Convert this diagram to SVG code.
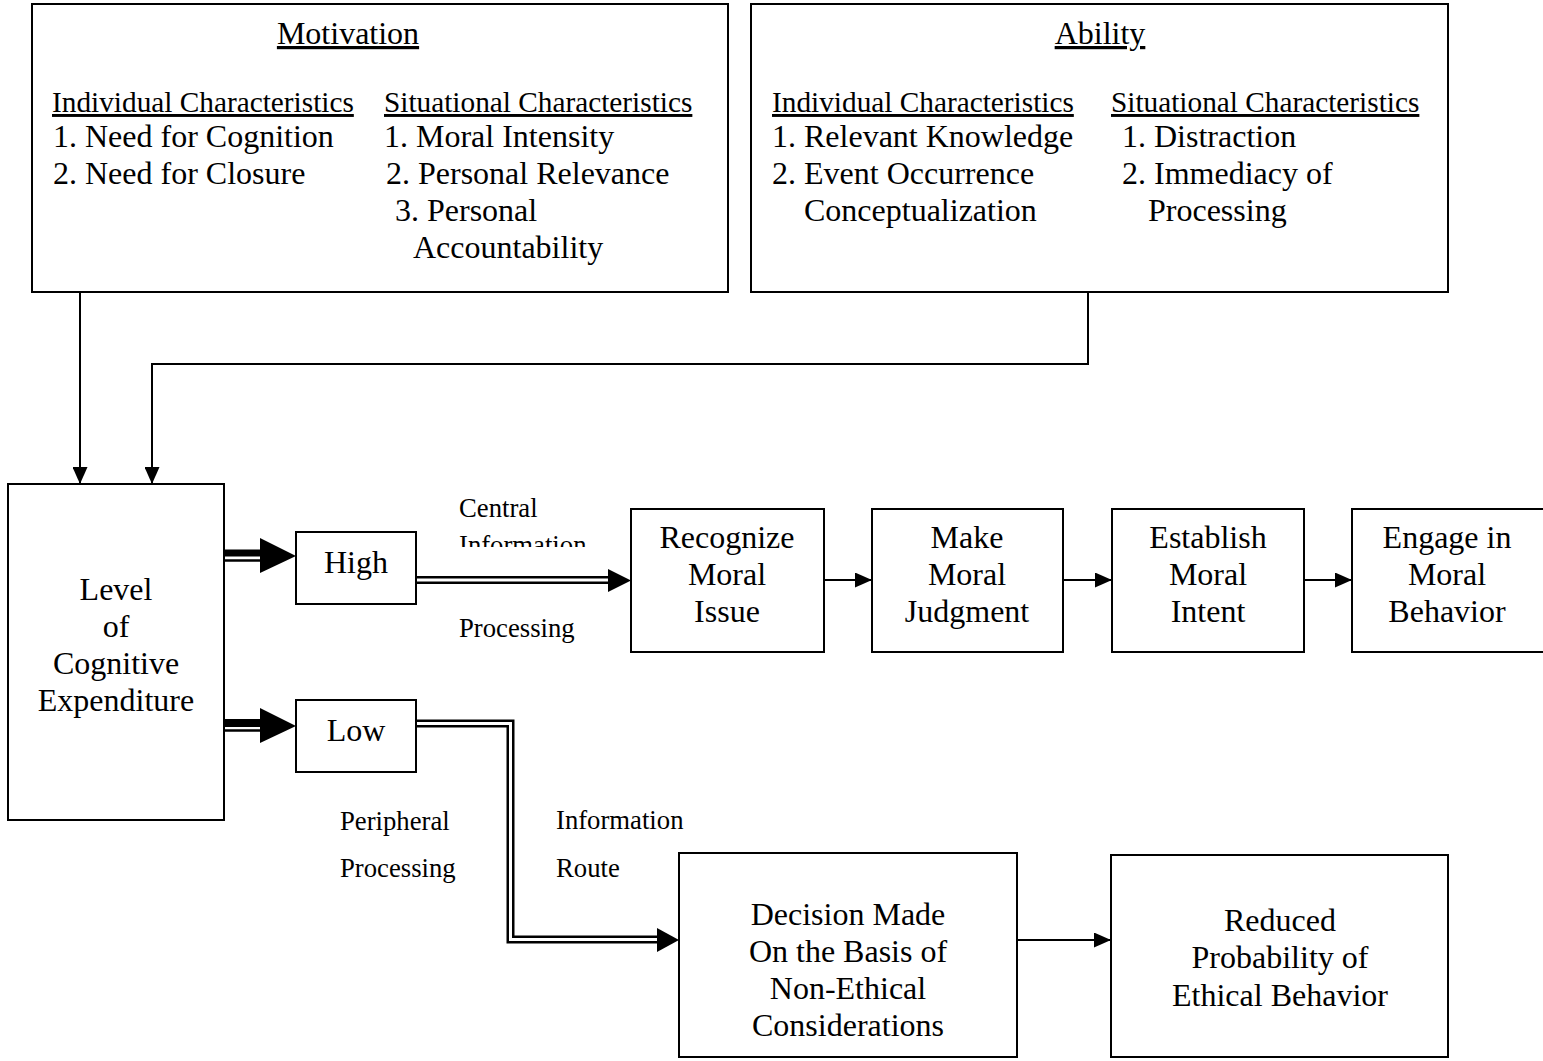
<svg xmlns="http://www.w3.org/2000/svg" width="1543" height="1061" viewBox="0 0 1543 1061">
  <style>
    text { font-family: "Liberation Serif", "Times New Roman", serif; fill: #000; }
    .t12 { font-size: 32px; }
    .t11 { font-size: 29.3px; }
    .t10 { font-size: 26.7px; }
    .c { text-anchor: middle; }
    .u { text-decoration: underline; }
    .box { fill: #fff; stroke: #000; stroke-width: 2; }
    .ln { fill: none; stroke: #000; stroke-width: 2; }
    .dbl-o { fill: none; stroke: #000; stroke-width: 8; stroke-linejoin: miter; }
    .dbl-i { fill: none; stroke: #fff; stroke-width: 3; stroke-linejoin: miter; }
    .head { fill: #000; stroke: none; }
  </style>
  <defs>
    <marker id="arrow-sm" markerUnits="userSpaceOnUse" markerWidth="17" markerHeight="15" refX="17" refY="7.5" orient="auto">
      <path d="M0,0 L17,7.5 L0,15 Z" fill="#000"/>
    </marker>
    <clipPath id="clip-central">
      <rect x="440" y="480" width="180" height="67"/>
    </clipPath>
  </defs>

  <rect width="1543" height="1061" fill="#fff"/>

  <!-- Motivation -->
  <g id="motivation">
    <rect class="box" x="32" y="4" width="696" height="288"/>
    <text class="t12 c u" x="348" y="44">Motivation</text>
    <text class="t11 u" x="52" y="112">Individual Characteristics</text>
    <text class="t11 u" x="384" y="112">Situational Characteristics</text>
    <text class="t12" x="53" y="147">1. Need for Cognition</text>
    <text class="t12" x="53" y="184">2. Need for Closure</text>
    <text class="t12" x="384" y="147">1. Moral Intensity</text>
    <text class="t12" x="386" y="184">2. Personal Relevance</text>
    <text class="t12" x="395" y="221">3. Personal</text>
    <text class="t12" x="413" y="258">Accountability</text>
  </g>

  <!-- Ability -->
  <g id="ability">
    <rect class="box" x="751" y="4" width="697" height="288"/>
    <text class="t12 c u" x="1100" y="44">Ability</text>
    <text class="t11 u" x="772" y="112">Individual Characteristics</text>
    <text class="t11 u" x="1111" y="112">Situational Characteristics</text>
    <text class="t12" x="772" y="147">1. Relevant Knowledge</text>
    <text class="t12" x="772" y="184">2. Event Occurrence</text>
    <text class="t12" x="804" y="221">Conceptualization</text>
    <text class="t12" x="1122" y="147">1. Distraction</text>
    <text class="t12" x="1122" y="184">2. Immediacy of</text>
    <text class="t12" x="1148" y="221">Processing</text>
  </g>

  <!-- Level of Cognitive Expenditure -->
  <g id="level">
    <rect class="box" x="8" y="484" width="216" height="336"/>
    <text class="t12 c" x="116" y="600">Level</text>
    <text class="t12 c" x="116" y="637">of</text>
    <text class="t12 c" x="116" y="674">Cognitive</text>
    <text class="t12 c" x="116" y="711">Expenditure</text>
  </g>

  <g id="high">
    <rect class="box" x="296" y="532" width="120" height="72"/>
    <text class="t12 c" x="356" y="573">High</text>
  </g>

  <g id="low">
    <rect class="box" x="296" y="700" width="120" height="72"/>
    <text class="t12 c" x="356" y="741">Low</text>
  </g>

  <g id="recognize">
    <rect class="box" x="631" y="509" width="193" height="143"/>
    <text class="t12 c" x="727" y="548">Recognize</text>
    <text class="t12 c" x="727" y="585">Moral</text>
    <text class="t12 c" x="727" y="622">Issue</text>
  </g>

  <g id="judgment">
    <rect class="box" x="872" y="509" width="191" height="143"/>
    <text class="t12 c" x="967" y="548">Make</text>
    <text class="t12 c" x="967" y="585">Moral</text>
    <text class="t12 c" x="967" y="622">Judgment</text>
  </g>

  <g id="intent">
    <rect class="box" x="1112" y="509" width="192" height="143"/>
    <text class="t12 c" x="1208" y="548">Establish</text>
    <text class="t12 c" x="1208" y="585">Moral</text>
    <text class="t12 c" x="1208" y="622">Intent</text>
  </g>

  <g id="behavior">
    <path class="ln" d="M1545,509 H1352 V652 H1545"/>
    <text class="t12 c" x="1447" y="548">Engage in</text>
    <text class="t12 c" x="1447" y="585">Moral</text>
    <text class="t12 c" x="1447" y="622">Behavior</text>
  </g>

  <g id="decision">
    <rect class="box" x="679" y="853" width="338" height="204"/>
    <text class="t12 c" x="848" y="925">Decision Made</text>
    <text class="t12 c" x="848" y="962">On the Basis of</text>
    <text class="t12 c" x="848" y="999">Non-Ethical</text>
    <text class="t12 c" x="848" y="1036">Considerations</text>
  </g>

  <g id="reduced">
    <rect class="box" x="1111" y="855" width="337" height="202"/>
    <text class="t12 c" x="1280" y="931">Reduced</text>
    <text class="t12 c" x="1280" y="968">Probability of</text>
    <text class="t12 c" x="1280" y="1006">Ethical Behavior</text>
  </g>

  <!-- Connectors -->
  <g id="connectors">
    <!-- motivation and ability feed the level box -->
    <path class="ln" d="M80,292 V484" marker-end="url(#arrow-sm)"/>
    <path class="ln" d="M1088,292 V364 H152 V484" marker-end="url(#arrow-sm)"/>

    <!-- level to high / low -->
    <path d="M224,553 H262" stroke="#000" stroke-width="7"/>
    <path d="M224,560.5 H262" stroke="#000" stroke-width="2.5"/>
    <polygon class="head" points="260,538 296,556 260,573"/>
    <path d="M224,723 H262" stroke="#000" stroke-width="8"/>
    <path d="M224,730.5 H262" stroke="#000" stroke-width="2.5"/>
    <polygon class="head" points="260,708 296,726 260,743"/>

    <!-- central route -->
    <path class="dbl-o" d="M417,580 H610"/>
    <path class="dbl-i" d="M417,580 H609"/>
    <polygon class="head" points="608,569 631,580.5 608,592"/>
    <text class="t10" x="459" y="517">Central</text>
    <text class="t10" x="459" y="554" clip-path="url(#clip-central)">Information</text>
    <text class="t10" x="459" y="637">Processing</text>

    <!-- peripheral route -->
    <path class="dbl-o" d="M417,723.5 H510.5 V939.5 H659"/>
    <path class="dbl-i" d="M417,723.5 H510.5 V939.5 H658"/>
    <polygon class="head" points="657,928 679,940 657,952"/>
    <text class="t10" x="340" y="830">Peripheral</text>
    <text class="t10" x="340" y="877">Processing</text>
    <text class="t10" x="556" y="829">Information</text>
    <text class="t10" x="556" y="877">Route</text>

    <!-- central chain -->
    <path class="ln" d="M824,580 H872" marker-end="url(#arrow-sm)"/>
    <path class="ln" d="M1063,580 H1112" marker-end="url(#arrow-sm)"/>
    <path class="ln" d="M1304,580 H1352" marker-end="url(#arrow-sm)"/>

    <!-- peripheral outcome -->
    <path class="ln" d="M1017,940 H1111" marker-end="url(#arrow-sm)"/>
  </g>
</svg>
